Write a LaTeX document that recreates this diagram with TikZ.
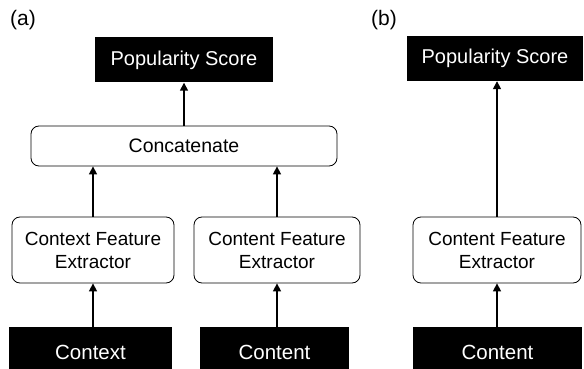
\documentclass[tikz,border=0pt]{standalone}
\usepackage{fontspec}
\setmainfont{Liberation Sans}
\usetikzlibrary{arrows.meta}
\begin{document}
\begin{tikzpicture}[x=1pt,y=-1pt,
  blackbox/.style={fill=black,text=white,inner sep=0pt,font=\fontsize{20.5}{22}\selectfont},
  roundbox/.style={draw=black,line width=0.8pt,fill=white,rounded corners=8pt,inner sep=0pt,align=center,font=\fontsize{19}{23}\selectfont},
  arr/.style={line width=1.5pt,-{Triangle[length=8pt,width=8pt]}},
  lbl/.style={font=\fontsize{21}{22}\selectfont,inner sep=0pt}]
\useasboundingbox (0,0) rectangle (584,369);
% (a)
\node[lbl] (la) at (23,20) {(a)};
\node[blackbox,minimum width=178pt,minimum height=45pt,font=\fontsize{20}{22}\selectfont] (psa) at (184,60) {Popularity Score};
\node[roundbox,minimum width=306pt,minimum height=40pt,font=\fontsize{19.5}{22}\selectfont] (cat) at (184,146) {Concatenate};
\node[roundbox,minimum width=162pt,minimum height=66pt] (cxfe) at (93,250) {Context Feature\\Extractor};
\node[roundbox,minimum width=166pt,minimum height=66pt] (cnfe) at (277,250) {Content Feature\\Extractor};
\node[blackbox,minimum width=163pt,minimum height=50pt] (cx) at (90.5,352) {Context};
\node[blackbox,minimum width=149pt,minimum height=50pt] (cn) at (274.5,352) {Content};
\draw[arr] (cat.north -| psa.south) -- (psa.south);
\draw[arr] (cxfe.north) -- (cxfe.north |- cat.south);
\draw[arr] (cnfe.north) -- (cnfe.north |- cat.south);
\draw[arr] (cx.north -| cxfe.south) -- (cxfe.south);
\draw[arr] (cn.north -| cnfe.south) -- (cnfe.south);
% (b)
\node[lbl] (lb) at (384,20) {(b)};
\node[blackbox,minimum width=176pt,minimum height=45pt,font=\fontsize{20}{22}\selectfont] (psb) at (495,58.5) {Popularity Score};
\node[roundbox,minimum width=168pt,minimum height=66pt] (cnfeb) at (497,250) {Content Feature\\Extractor};
\node[blackbox,minimum width=169pt,minimum height=50pt] (cnb) at (497.5,352) {Content};
\draw[arr] (cnfeb.north) -- (cnfeb.north |- psb.south);
\draw[arr] (cnb.north -| cnfeb.south) -- (cnfeb.south);
\end{tikzpicture}
\end{document}
